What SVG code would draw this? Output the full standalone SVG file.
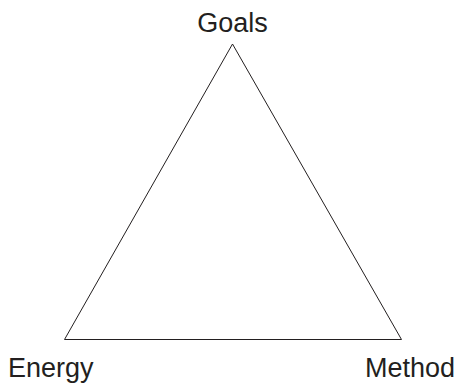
<svg xmlns="http://www.w3.org/2000/svg" width="458" height="383" viewBox="0 0 458 383">
<style>
.lbl{font-family:"Liberation Sans",Arial,sans-serif;font-size:27px;fill:#231f20}
.edge{fill:none;stroke:#231f20;stroke-width:1}
</style>
<rect width="458" height="383" fill="#fff"/>
<g id="connectors">
<polygon class="edge" points="232.5,44 64.5,339.5 401.5,339.5"/>
</g>
<g id="goals"><text class="lbl" x="232.5" y="31.5" text-anchor="middle">Goals</text></g>
<g id="energy"><text class="lbl" x="8" y="377">Energy</text></g>
<g id="method"><text class="lbl" x="455" y="377" text-anchor="end">Method</text></g>
</svg>
